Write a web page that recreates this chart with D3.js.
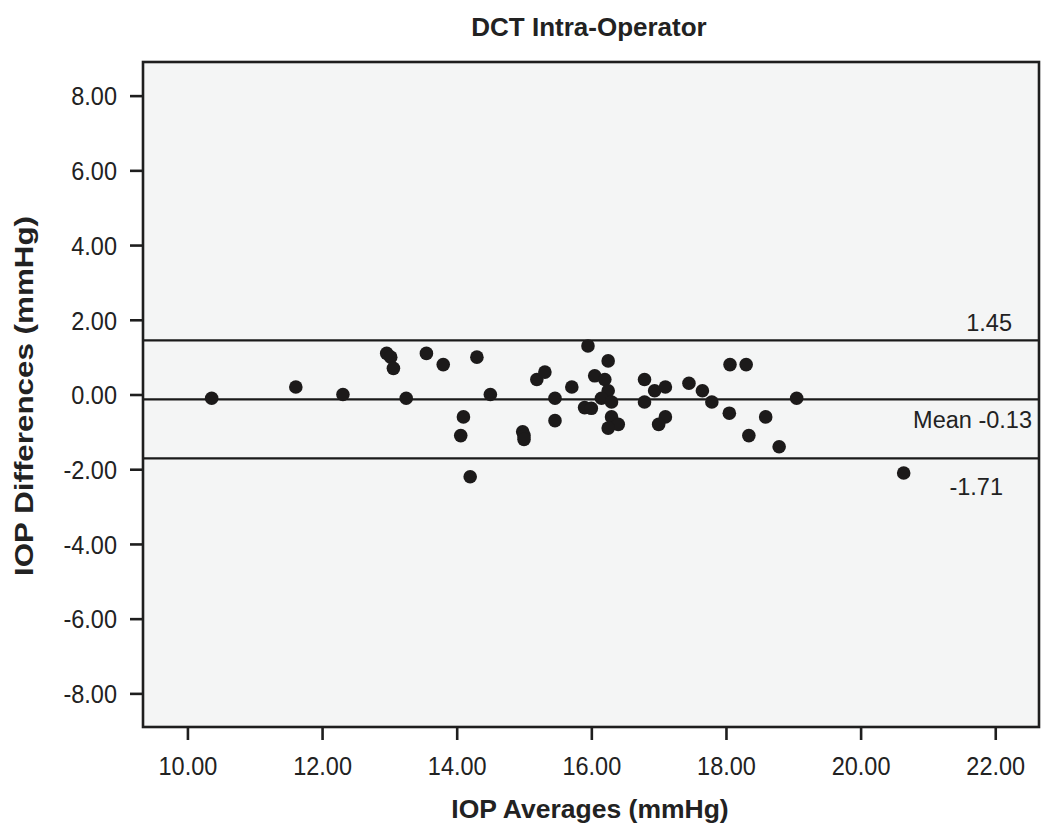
<!DOCTYPE html>
<html>
<head>
<meta charset="utf-8">
<script src="https://cdn.jsdelivr.net/npm/d3@7"></script>
<style>
  html, body { margin: 0; padding: 0; background: #fff; }
  svg { display: block; font-family: "Liberation Sans", Arial, Helvetica, sans-serif; }
</style>
</head>
<body>
<svg id="chart" width="1050" height="840"></svg>
<script>
const title = "DCT Intra-Operator";
const xLabel = "IOP Averages (mmHg)";
const yLabel = "IOP Differences (mmHg)";
const xTicks = [10, 12, 14, 16, 18, 20, 22];
const yTicks = [8, 6, 4, 2, 0, -2, -4, -6, -8];

const iopAverages = [10.36, 11.61, 12.31, 12.96, 13.02, 13.06, 13.25, 13.55, 13.80, 14.30,
  14.10, 14.06, 14.20, 14.50, 14.98, 15.00, 15.00, 15.19, 15.31, 15.46,
  15.46, 15.71, 15.95, 15.90, 16.00, 16.05, 16.20, 16.25, 16.25, 16.15,
  16.30, 16.30, 16.40, 16.25, 16.79, 16.79, 16.94, 17.10, 17.10, 17.00,
  17.45, 17.65, 17.79, 18.06, 18.30, 18.05, 18.59, 18.34, 18.79, 19.05, 20.64];
const iopDifferences = [-0.10, 0.20, 0.00, 1.10, 1.00, 0.70, -0.10, 1.10, 0.80, 1.00,
  -0.60, -1.10, -2.20, 0.00, -1.00, -1.10, -1.20, 0.40, 0.60, -0.10,
  -0.70, 0.20, 1.30, -0.35, -0.37, 0.50, 0.40, 0.90, 0.10, -0.10,
  -0.20, -0.60, -0.80, -0.90, 0.40, -0.20, 0.10, 0.20, -0.60, -0.80,
  0.30, 0.10, -0.20, 0.80, 0.80, -0.50, -0.60, -1.10, -1.40, -0.10, -2.10];

const refValues = [1.45, -0.13, -1.71];
const refLabels = ["1.45", "Mean -0.13", "-1.71"];

const svg = d3.select("#chart");
const pLeft = 143, pRight = 1039, pTop = 62, pBottom = 727;

const x = d3.scaleLinear().domain([9.34, 22.65]).range([pLeft, pRight]);
const y = d3.scaleLinear().domain([-8.9, 8.9]).range([pBottom, pTop]);

// plot background
svg.append("rect")
  .attr("x", pLeft).attr("y", pTop)
  .attr("width", pRight - pLeft).attr("height", pBottom - pTop)
  .attr("fill", "#f4f5f5");

// axes (hyphen-minus like the original)
const fmt = d => d3.format(".2f")(d).replace("\u2212", "-");
const xAxis = svg.append("g")
  .attr("transform", `translate(0,${pBottom})`)
  .call(d3.axisBottom(x).tickValues(xTicks).tickFormat(fmt).tickSize(13).tickSizeOuter(0));
const yAxis = svg.append("g")
  .attr("transform", `translate(${pLeft},0)`)
  .call(d3.axisLeft(y).tickValues(yTicks).tickFormat(fmt).tickSize(13).tickSizeOuter(0).tickPadding(13));

[xAxis, yAxis].forEach(g => {
  g.select(".domain").remove();
  g.selectAll(".tick line").attr("stroke", "#1e1e1e").attr("stroke-width", 2.6);
  g.selectAll(".tick text")
    .attr("fill", "#222")
    .attr("font-size", 23.5)
    .attr("font-family", "'Liberation Sans', Arial, sans-serif")
    .attr("transform", "scale(1,1.1)");
});
xAxis.selectAll(".tick text").attr("y", 27).attr("dy", "0.71em");
yAxis.selectAll(".tick text").attr("dy", "0.36em");

// reference lines
svg.append("g").selectAll("line")
  .data(refValues).join("line")
  .attr("x1", pLeft).attr("x2", pRight)
  .attr("y1", d => y(d)).attr("y2", d => y(d))
  .attr("stroke", "#1a1a1a").attr("stroke-width", 2.4);

// reference labels
const refLabelX = [1012, 1032, 1003];
const refLabelDy = [-9, 29, 37];
svg.append("g").selectAll("text")
  .data(refValues).join("text")
  .attr("x", (d, i) => refLabelX[i])
  .attr("y", (d, i) => y(d) + refLabelDy[i])
  .attr("text-anchor", "end")
  .attr("font-size", 23.5)
  .attr("fill", "#222")
  .text((d, i) => refLabels[i]);

// points
const pts = iopAverages.map((v, i) => [v, iopDifferences[i]]);
svg.append("g").selectAll("circle")
  .data(pts).join("circle")
  .attr("cx", d => x(d[0]))
  .attr("cy", d => y(d[1]))
  .attr("r", 6.8)
  .attr("fill", "#1c1a1a");

// frame
svg.append("rect")
  .attr("x", pLeft).attr("y", pTop)
  .attr("width", pRight - pLeft).attr("height", pBottom - pTop)
  .attr("fill", "none").attr("stroke", "#1e1e1e").attr("stroke-width", 2.6);

// title
svg.append("text")
  .attr("x", 589).attr("y", 36)
  .attr("text-anchor", "middle")
  .attr("font-size", 26).attr("font-weight", "bold")
  .attr("fill", "#222")
  .text(title);

// x label
svg.append("text")
  .attr("x", 590).attr("y", 818)
  .attr("text-anchor", "middle")
  .attr("font-size", 26.5).attr("font-weight", "bold")
  .attr("fill", "#222")
  .text(xLabel);

// y label
svg.append("text")
  .attr("transform", `translate(33,396) rotate(-90)`)
  .attr("text-anchor", "middle")
  .attr("font-size", 25).attr("font-weight", "bold")
  .attr("textLength", 360).attr("lengthAdjust", "spacingAndGlyphs")
  .attr("fill", "#222")
  .text(yLabel);
</script>
</body>
</html>
